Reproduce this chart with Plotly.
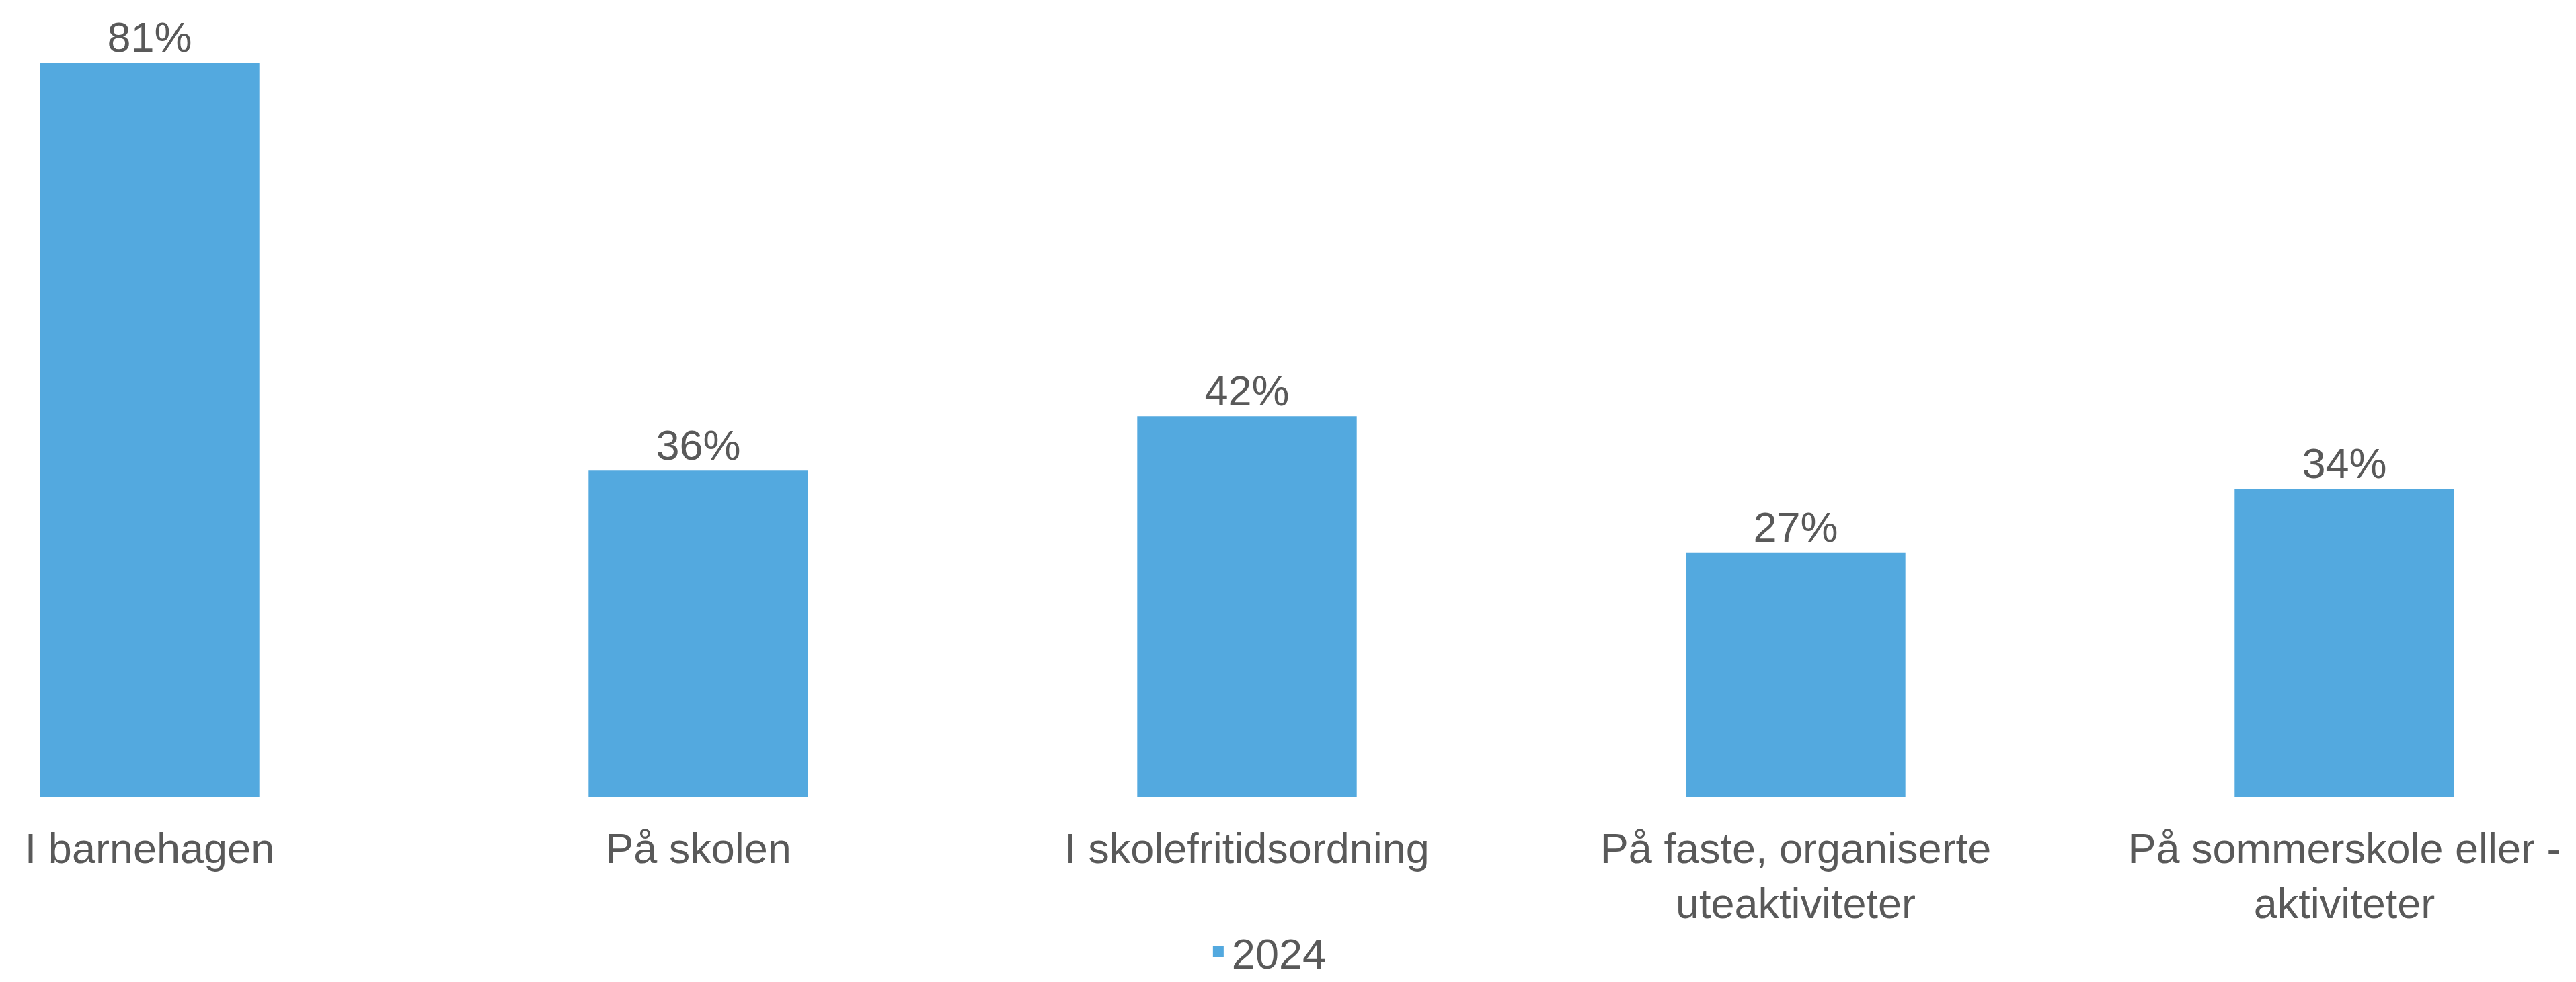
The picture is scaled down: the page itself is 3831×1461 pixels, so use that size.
import plotly.graph_objects as go

categories = ["I barnehagen", "På skolen", "I skolefritidsordning",
              "På faste, organiserte<br>uteaktiviteter", "På sommerskole eller -<br>aktiviteter"]
values = [81, 36, 42, 27, 34]
labels = ["81%", "36%", "42%", "27%", "34%"]
series_name = "2024"

W, H = 3831, 1461
FONT = "Liberation Sans, Arial, sans-serif"
TXT = "#595959"
BAR = "#53A9DF"

fig = go.Figure()
fig.add_trace(go.Bar(
    x=categories, y=values, name=series_name,
    marker=dict(color=BAR, line=dict(width=0)),
    width=0.4,
    text=labels, textposition="outside",
    textfont=dict(family=FONT, size=63, color=TXT),
    cliponaxis=False, showlegend=False,
))
# legend entry (square swatch)
fig.add_trace(go.Scatter(
    x=[None], y=[None], mode="markers", name=series_name,
    marker=dict(symbol="square", size=32, color=BAR), showlegend=True,
))

fig.update_layout(
    width=W, height=H,
    margin=dict(l=0, r=0, t=0, b=275, autoexpand=False),
    plot_bgcolor="white", paper_bgcolor="white",
    font=dict(family=FONT, size=63, color=TXT),
    xaxis=dict(range=[-0.2727, 4.4222], showgrid=False, zeroline=False, automargin=False,
               showline=False, ticks="", ticklabelstandoff=34,
               tickfont=dict(size=63, color=TXT)),
    yaxis=dict(range=[0, 87.9], visible=False, automargin=False),
    legend=dict(orientation="h", x=0.492, xanchor="center", y=-0.194, yanchor="middle",
                itemsizing="trace", font=dict(size=63, color=TXT)),
    showlegend=True,
)
fig.write_html("out.html", config={"displayModeBar": False},
               post_script="document.body.style.margin='0';document.body.style.overflow='hidden';")
